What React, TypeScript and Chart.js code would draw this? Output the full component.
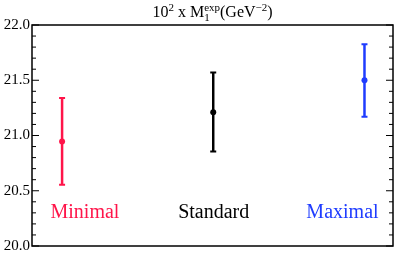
import React, { useEffect, useRef } from "react";
import { Chart, registerables } from "chart.js";

Chart.register(...registerables);

// ---- data ----
const categories = ["Minimal", "Standard", "Maximal"];
const xPositions = [0.25, 1.506, 2.763];
const centralValues = [20.945, 21.21, 21.5];
const upperValues = [21.34, 21.57, 21.825];
const lowerValues = [20.555, 20.855, 21.17];
const seriesColors = ["#ff1449", "#000000", "#1f3cff"];
const labelXPositions = [0.44, 1.51, 2.58];
const labelY = 20.25;
const yMin = 20;
const yMax = 22;
const minorStep = 0.1;
const majorStep = 0.5;

const SERIF = '"Liberation Serif", "DejaVu Serif", serif';

const isMajor = (v: number) => Math.abs(v / majorStep - Math.round(v / majorStep)) < 1e-6;

const frameTicksPlugin = {
  id: "frameTicks",
  afterDraw(chart: any) {
    const { ctx, chartArea, scales } = chart;
    const { left, right, top, bottom } = chartArea;
    const y = scales.y;
    ctx.save();
    ctx.strokeStyle = "#000";
    ctx.lineWidth = 1;
    y.ticks.forEach((t: any) => {
      const py = y.getPixelForValue(t.value);
      const len = isMajor(t.value) ? 7 : 4;
      ctx.beginPath();
      ctx.moveTo(left, py);
      ctx.lineTo(left + len, py);
      ctx.moveTo(right, py);
      ctx.lineTo(right - len, py);
      ctx.stroke();
    });
    ctx.lineWidth = 1.5;
    ctx.strokeRect(left, top, right - left, bottom - top);

    // title: 10^2 x M_1^exp(GeV^-2)
    const mainFont = `16px ${SERIF}`;
    const scriptFont = `11px ${SERIF}`;
    const parts: { t: string; f: string; dy: number; stackWith?: string }[] = [
      { t: "10", f: mainFont, dy: 0 },
      { t: "2", f: scriptFont, dy: -6 },
      { t: " x M", f: mainFont, dy: 0 },
      { t: "exp", f: scriptFont, dy: -6, stackWith: "1" },
      { t: "(GeV", f: mainFont, dy: 0 },
      { t: "\u22122", f: scriptFont, dy: -6 },
      { t: ")", f: mainFont, dy: 0 },
    ];
    let total = 0;
    const widths = parts.map((p) => {
      ctx.font = p.f;
      const w = ctx.measureText(p.t).width;
      total += w;
      return w;
    });
    let cx = (left + right) / 2 - total / 2;
    const baseY = 17;
    ctx.fillStyle = "#000";
    ctx.textAlign = "left";
    ctx.textBaseline = "alphabetic";
    parts.forEach((p, i) => {
      ctx.font = p.f;
      ctx.fillText(p.t, cx, baseY + p.dy);
      if (p.stackWith) {
        ctx.fillText(p.stackWith, cx, baseY + 4);
      }
      cx += widths[i];
    });
    ctx.restore();
  },
};

const errorBarPlugin = {
  id: "errorBars",
  beforeDatasetsDraw(chart: any) {
    const { ctx, scales } = chart;
    const x = scales.x;
    const y = scales.y;
    ctx.save();
    categories.forEach((_, i) => {
      const px = x.getPixelForValue(xPositions[i]);
      const pt = y.getPixelForValue(upperValues[i]);
      const pb = y.getPixelForValue(lowerValues[i]);
      ctx.strokeStyle = seriesColors[i];
      ctx.lineWidth = 2.5;
      ctx.beginPath();
      ctx.moveTo(px, pt);
      ctx.lineTo(px, pb);
      ctx.stroke();
      ctx.lineWidth = 2;
      ctx.beginPath();
      ctx.moveTo(px - 3, pt);
      ctx.lineTo(px + 3, pt);
      ctx.moveTo(px - 3, pb);
      ctx.lineTo(px + 3, pb);
      ctx.stroke();
    });
    ctx.restore();
  },
  afterDatasetsDraw(chart: any) {
    const { ctx, scales } = chart;
    const x = scales.x;
    const y = scales.y;
    ctx.save();
    ctx.font = `20px ${SERIF}`;
    ctx.textAlign = "center";
    ctx.textBaseline = "alphabetic";
    categories.forEach((c, i) => {
      ctx.fillStyle = seriesColors[i];
      ctx.fillText(c, x.getPixelForValue(labelXPositions[i]), y.getPixelForValue(labelY));
    });
    ctx.restore();
  },
};

export default function App() {
  const canvasRef = useRef<HTMLCanvasElement | null>(null);

  useEffect(() => {
    if (!canvasRef.current) return;
    const chart = new Chart(canvasRef.current, {
      type: "scatter",
      data: {
        datasets: [
          {
            data: categories.map((_, i) => ({ x: xPositions[i], y: centralValues[i] })),
            backgroundColor: seriesColors,
            borderColor: seriesColors,
            pointRadius: 3,
            pointBorderWidth: 0,
          },
        ],
      },
      options: {
        animation: false,
        responsive: true,
        maintainAspectRatio: false,
        layout: { padding: { left: 0, top: 25, right: 6, bottom: 7 } },
        plugins: {
          legend: { display: false },
          tooltip: { enabled: false },
          title: { display: false },
        },
        scales: {
          x: {
            type: "linear",
            min: 0,
            max: 3,
            display: false,
          },
          y: {
            type: "linear",
            min: yMin,
            max: yMax,
            afterFit: (scale: any) => {
              scale.width = 32;
            },
            grid: { display: false, drawTicks: false },
            border: { display: false },
            ticks: {
              stepSize: minorStep,
              autoSkip: false,
              padding: 2,
              color: "#000",
              font: { family: SERIF, size: 15 },
              callback: (v: any) => (isMajor(Number(v)) ? Number(v).toFixed(1) : ""),
            },
          },
        },
      },
      plugins: [errorBarPlugin, frameTicksPlugin],
    });
    return () => chart.destroy();
  }, []);

  return (
    <div style={{ position: "absolute", left: 0, top: 0, width: 399, height: 257, background: "#fff" }}>
      <canvas ref={canvasRef} />
    </div>
  );
}
